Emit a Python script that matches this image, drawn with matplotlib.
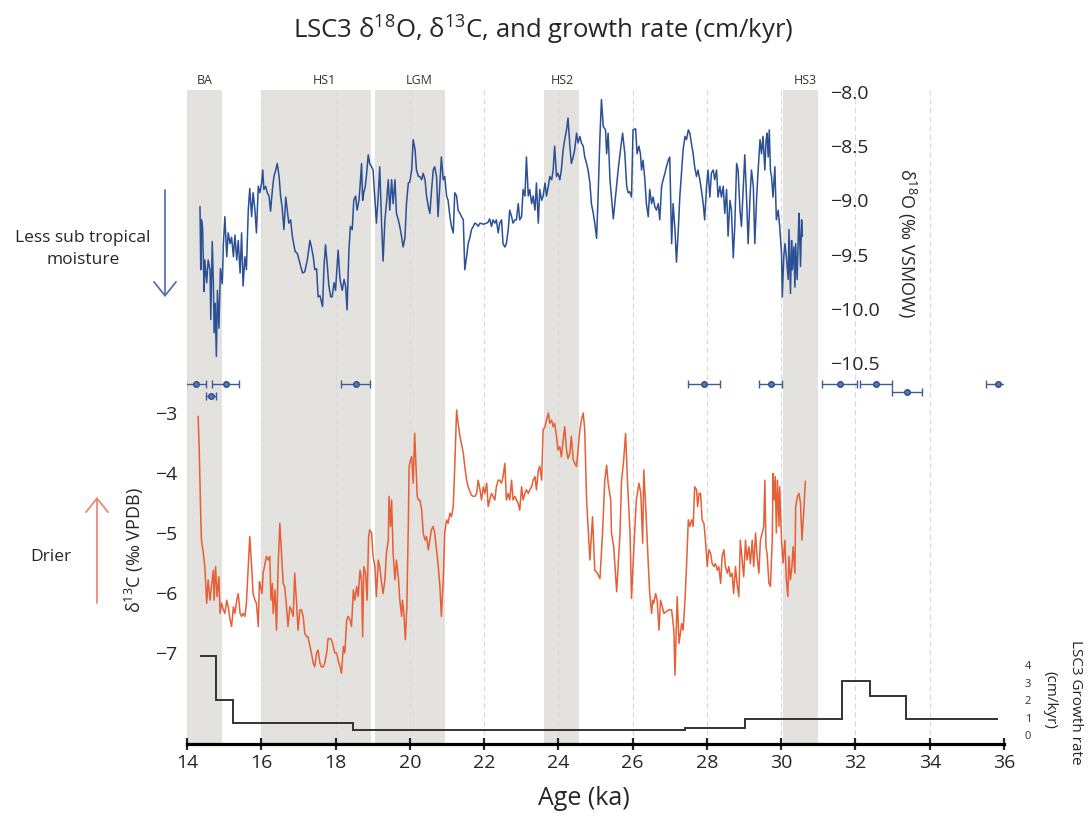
import matplotlib.pyplot as plt

plt.rcParams['font.family'] = ['Open Sans', 'DejaVu Sans']
plt.rcParams['mathtext.fontset'] = 'custom'
plt.rcParams['mathtext.rm'] = 'Open Sans'
plt.rcParams['mathtext.it'] = 'Open Sans'
plt.rcParams['mathtext.bf'] = 'Open Sans'

# ---- data ----
# stadial / LGM bands (ka)
band_names = ['BA', 'HS1', 'LGM', 'HS2', 'HS3']
band_start = [14.0, 16.0, 19.05, 23.6, 30.05]
band_end = [14.95, 18.95, 20.94, 24.55, 31.0]
band_label_x = [14.48, 17.7, 20.25, 24.1, 30.66]

# d18O (permil VSMOW) : (age ka, value)
d18o = [(14.35,-9.06),(14.37,-9.64),(14.39,-9.18),(14.42,-9.25),(14.46,-9.84),(14.48,-9.55),(14.53,-9.76),(14.57,-9.55),(14.62,-9.64),(14.64,-10.10),(14.68,-9.38),(14.71,-9.76),(14.73,-10.22),(14.76,-9.95),(14.79,-10.44),(14.82,-9.83),(14.86,-10.18),(14.90,-9.63),(14.95,-9.77),(14.98,-9.40),(15.02,-9.15),(15.07,-9.52),(15.11,-9.30),(15.16,-9.40),(15.20,-9.34),(15.25,-9.52),(15.29,-9.32),(15.34,-9.55),(15.38,-9.37),(15.43,-9.67),(15.47,-9.30),(15.51,-9.79),(15.56,-9.52),(15.60,-9.64),(15.65,-9.09),(15.69,-8.89),(15.74,-9.15),(15.78,-8.93),(15.83,-9.09),(15.87,-9.30),(15.92,-8.87),(15.96,-8.93),(16.01,-8.84),(16.04,-8.72),(16.07,-8.90),(16.12,-8.87),(16.16,-8.93),(16.21,-8.96),(16.25,-9.10),(16.30,-8.90),(16.34,-8.78),(16.39,-8.72),(16.43,-8.66),(16.48,-8.78),(16.52,-8.96),(16.56,-9.06),(16.61,-9.27),(16.66,-8.97),(16.70,-9.09),(16.74,-9.21),(16.79,-9.18),(16.84,-9.34),(16.91,-9.47),(16.97,-9.49),(17.04,-9.58),(17.11,-9.67),(17.17,-9.66),(17.24,-9.55),(17.31,-9.37),(17.35,-9.43),(17.40,-9.52),(17.44,-9.64),(17.49,-9.63),(17.53,-9.89),(17.58,-9.88),(17.65,-9.98),(17.69,-9.61),(17.73,-9.41),(17.78,-9.61),(17.82,-9.79),(17.87,-9.89),(17.91,-9.89),(17.96,-9.76),(18.00,-9.83),(18.07,-9.46),(18.12,-9.73),(18.18,-9.83),(18.23,-9.73),(18.27,-9.79),(18.31,-10.01),(18.36,-9.46),(18.40,-9.24),(18.45,-9.27),(18.49,-9.00),(18.54,-8.96),(18.58,-9.09),(18.63,-9.00),(18.66,-8.87),(18.70,-8.66),(18.73,-9.00),(18.76,-8.93),(18.80,-8.87),(18.83,-8.78),(18.88,-8.58),(18.92,-8.66),(18.97,-8.69),(19.01,-8.72),(19.06,-9.00),(19.10,-9.21),(19.15,-8.96),(19.19,-8.69),(19.24,-9.21),(19.28,-9.56),(19.33,-9.18),(19.37,-9.03),(19.42,-8.81),(19.46,-9.09),(19.51,-8.81),(19.55,-9.03),(19.60,-8.81),(19.64,-9.12),(19.69,-9.18),(19.73,-9.24),(19.78,-9.34),(19.82,-9.43),(19.87,-9.34),(19.91,-9.03),(19.96,-8.84),(20.00,-8.83),(20.05,-8.72),(20.09,-8.44),(20.14,-8.53),(20.18,-8.72),(20.23,-8.78),(20.27,-8.78),(20.32,-8.81),(20.36,-8.75),(20.41,-8.81),(20.45,-8.96),(20.50,-9.06),(20.54,-9.12),(20.58,-8.93),(20.63,-8.72),(20.67,-8.69),(20.72,-8.78),(20.76,-9.15),(20.81,-8.84),(20.85,-8.60),(20.90,-8.81),(20.94,-8.78),(20.99,-8.96),(21.03,-9.00),(21.08,-9.15),(21.12,-9.24),(21.17,-9.30),(21.21,-8.93),(21.26,-8.96),(21.30,-9.09),(21.35,-9.12),(21.39,-9.15),(21.44,-9.18),(21.48,-9.64),(21.53,-9.52),(21.57,-9.40),(21.62,-9.34),(21.66,-9.27),(21.71,-9.24),(21.75,-9.21),(21.80,-9.22),(21.84,-9.24),(21.89,-9.21),(21.98,-9.22),(22.07,-9.21),(22.11,-9.20),(22.15,-9.17),(22.20,-9.24),(22.24,-9.18),(22.29,-9.21),(22.33,-9.18),(22.38,-9.30),(22.42,-9.21),(22.47,-9.18),(22.51,-9.40),(22.56,-9.43),(22.60,-9.40),(22.65,-9.27),(22.69,-9.09),(22.74,-9.15),(22.78,-9.21),(22.83,-9.18),(22.87,-9.18),(22.92,-9.03),(22.96,-9.18),(23.01,-9.15),(23.05,-8.90),(23.10,-8.96),(23.14,-8.60),(23.19,-8.96),(23.23,-8.90),(23.28,-9.03),(23.32,-8.96),(23.37,-9.09),(23.41,-8.84),(23.46,-9.21),(23.50,-8.90),(23.55,-9.00),(23.59,-8.96),(23.64,-8.84),(23.68,-8.96),(23.73,-8.87),(23.77,-8.78),(23.82,-8.81),(23.86,-8.72),(23.90,-8.50),(23.95,-8.78),(23.99,-8.75),(24.04,-8.81),(24.08,-8.72),(24.13,-8.53),(24.17,-8.44),(24.22,-8.35),(24.26,-8.24),(24.31,-8.50),(24.35,-8.66),(24.40,-8.60),(24.44,-8.53),(24.49,-8.38),(24.53,-8.47),(24.58,-8.41),(24.62,-8.47),(24.67,-8.50),(24.71,-8.60),(24.76,-8.66),(24.80,-8.72),(24.85,-8.84),(24.89,-9.03),(24.94,-9.12),(24.98,-9.21),(25.03,-9.35),(25.07,-8.96),(25.12,-8.41),(25.16,-8.07),
        (25.21,-8.32),(25.27,-8.35),(25.30,-8.57),(25.34,-8.38),(25.39,-8.81),(25.48,-9.17),(25.52,-9.03),(25.61,-8.72),(25.66,-8.57),(25.73,-8.38),(25.79,-8.57),(25.84,-8.87),(25.88,-8.93),(25.92,-8.92),(25.97,-8.97),(26.01,-8.35),(26.08,-8.34),(26.12,-8.57),(26.17,-8.50),(26.21,-8.57),(26.24,-8.72),(26.28,-8.63),(26.33,-8.81),(26.37,-9.03),(26.42,-9.15),(26.46,-8.90),(26.51,-9.03),(26.55,-8.97),(26.60,-9.06),(26.64,-9.09),(26.69,-9.03),(26.73,-9.18),(26.78,-8.87),(26.82,-8.81),(26.87,-8.75),(26.91,-8.69),(26.96,-8.63),(27.00,-8.60),(27.05,-9.40),(27.09,-9.03),(27.14,-9.27),(27.18,-9.57),(27.23,-9.27),(27.27,-8.97),(27.32,-8.72),(27.36,-8.53),(27.41,-8.41),(27.45,-8.44),(27.50,-8.35),(27.54,-8.38),(27.59,-8.49),(27.63,-8.57),(27.67,-8.69),(27.72,-8.78),(27.76,-8.72),(27.81,-8.81),(27.85,-8.90),(27.90,-9.03),(27.94,-9.18),(27.99,-8.87),(28.03,-8.72),(28.08,-8.97),(28.12,-8.75),(28.17,-8.72),(28.21,-8.81),(28.26,-8.72),(28.30,-8.97),(28.35,-8.87),(28.39,-8.97),(28.44,-8.87),(28.48,-9.12),(28.53,-8.90),(28.57,-9.33),(28.62,-9.00),(28.66,-9.09),(28.71,-9.53),(28.75,-9.24),(28.80,-8.66),(28.84,-8.72),(28.89,-9.09),(28.93,-9.24),(28.98,-8.87),(29.02,-8.58),(29.07,-9.00),(29.11,-9.40),(29.16,-8.97),(29.20,-8.72),(29.25,-8.87),(29.29,-9.40),(29.34,-8.97),(29.38,-8.72),(29.43,-8.44),(29.47,-8.57),(29.51,-8.41),(29.56,-8.72),(29.59,-8.46),(29.62,-8.38),(29.65,-8.60),(29.68,-8.35),(29.71,-8.72),(29.74,-8.78),(29.78,-8.97),(29.83,-8.69),(29.87,-9.18),(29.92,-9.09),(29.96,-9.24),(30.01,-9.49),(30.03,-9.89),(30.07,-9.52),(30.10,-9.40),(30.14,-9.52),(30.19,-9.73),(30.21,-9.27),(30.25,-9.86),(30.28,-9.37),(30.30,-9.64),(30.34,-9.43),(30.37,-9.80),(30.39,-9.40),(30.43,-9.73),(30.46,-9.33),(30.48,-9.12),(30.52,-9.61),(30.55,-9.18),(30.57,-9.33)]

# d13C (permil VPDB) : (age ka, value)
d13c = [(14.30,-3.06),(14.33,-3.62),(14.37,-4.73),(14.39,-5.12),(14.44,-5.34),(14.48,-5.56),(14.53,-6.17),(14.57,-5.78),(14.62,-6.12),(14.66,-5.89),(14.71,-5.62),(14.73,-6.12),(14.77,-5.56),(14.81,-6.06),(14.86,-5.73),(14.89,-6.34),(14.93,-6.17),(14.98,-6.28),(15.02,-6.34),(15.07,-6.12),(15.11,-6.23),(15.16,-6.45),(15.20,-6.56),(15.25,-6.23),(15.29,-6.34),(15.34,-6.12),(15.38,-6.01),(15.43,-6.34),(15.47,-6.39),(15.51,-6.34),(15.56,-6.39),(15.60,-6.17),(15.65,-5.56),(15.69,-5.06),(15.74,-5.56),(15.78,-6.01),(15.83,-6.12),(15.87,-6.17),(15.92,-6.56),(15.95,-5.81),(15.98,-5.89),(16.02,-6.01),(16.05,-5.67),(16.10,-5.51),(16.14,-5.39),(16.19,-5.45),(16.23,-5.39),(16.26,-6.12),(16.30,-5.84),(16.32,-6.34),(16.37,-5.95),(16.41,-6.62),(16.46,-5.45),(16.50,-4.84),(16.54,-5.28),(16.59,-5.84),(16.63,-5.89),(16.68,-6.23),(16.72,-6.56),(16.77,-6.23),(16.81,-6.28),(16.86,-6.39),(16.90,-5.67),(16.95,-6.17),(16.99,-6.62),(17.04,-6.28),(17.08,-6.28),(17.13,-6.39),(17.17,-6.67),(17.22,-6.73),(17.26,-6.73),(17.31,-6.89),(17.35,-7.00),(17.40,-7.17),(17.44,-7.23),(17.49,-7.00),(17.53,-6.95),(17.58,-7.17),(17.62,-7.23),(17.67,-7.23),(17.71,-7.17),(17.76,-7.00),(17.80,-6.76),(17.85,-6.76),(17.89,-6.78),(17.94,-6.89),(17.98,-7.00),(18.03,-7.00),(18.07,-7.12),(18.12,-7.23),(18.16,-7.34),(18.21,-6.89),(18.25,-7.00),(18.30,-6.45),(18.34,-6.39),(18.39,-6.45),(18.43,-6.56),(18.48,-5.95),(18.52,-6.12),(18.57,-5.89),(18.61,-6.06),(18.66,-5.62),(18.70,-5.78),(18.73,-6.73),(18.76,-5.56),(18.81,-5.67),(18.85,-6.12),(18.89,-5.06),(18.92,-4.95),(18.97,-5.00),(19.01,-5.39),(19.06,-5.56),(19.10,-6.06),(19.15,-5.45),(19.19,-5.56),(19.24,-5.84),(19.28,-6.01),(19.33,-5.78),(19.37,-5.34),(19.42,-5.12),(19.44,-4.39),(19.48,-4.89),(19.51,-4.45),(19.55,-5.34),(19.60,-5.78),(19.64,-5.45),(19.69,-5.73),(19.73,-6.12),(19.78,-6.39),(19.80,-6.12),(19.84,-6.34),(19.88,-6.78),(19.92,-6.23),(19.96,-4.84),(19.98,-3.89),(20.02,-3.78),(20.05,-3.73),(20.09,-4.17),(20.13,-3.34),(20.16,-3.78),(20.20,-4.39),(20.23,-4.45),(20.27,-4.45),(20.32,-4.62),(20.36,-5.00),(20.41,-5.12),(20.45,-5.06),(20.50,-5.28),(20.54,-5.12),(20.58,-4.95),(20.63,-4.89),(20.67,-5.00),(20.72,-5.28),(20.76,-5.51),(20.81,-5.89),(20.85,-6.39),(20.90,-5.78),(20.94,-5.00),(20.99,-4.78),(21.03,-4.84),(21.08,-4.67),(21.12,-4.73),(21.17,-4.56),(21.21,-3.89),(21.26,-2.95),(21.30,-3.17),(21.35,-3.39),(21.39,-3.51),(21.44,-3.67),(21.48,-3.89),(21.53,-4.12),(21.57,-4.23),(21.62,-4.31),(21.66,-4.37),(21.71,-4.39),(21.75,-4.39),(21.80,-4.34),(21.84,-4.12),(21.89,-4.28),(21.93,-4.45),(21.98,-4.23),(22.02,-4.34),(22.07,-4.17),(22.11,-4.56),(22.15,-4.45),(22.20,-4.34),(22.24,-4.39),(22.29,-4.45),(22.33,-4.23),(22.38,-4.12),(22.42,-4.12),(22.47,-4.17),(22.51,-4.06),(22.56,-3.84),(22.60,-4.45),(22.65,-4.34),(22.69,-4.45),(22.74,-4.12),(22.78,-4.45),(22.83,-4.39),(22.87,-4.45),(22.92,-4.51),(22.96,-4.62),(23.01,-4.23),(23.05,-4.45),(23.10,-4.34),(23.14,-4.28),(23.19,-4.34),(23.23,-4.28),(23.28,-4.23),(23.32,-4.12),(23.37,-4.06),(23.41,-4.28),(23.46,-3.95),(23.50,-3.89),(23.55,-4.12),(23.59,-3.28),(23.64,-3.23),(23.68,-3.12),(23.73,-3.00),(23.77,-3.17),(23.82,-3.12),(23.86,-3.23),(23.90,-3.17),(23.95,-3.39),(23.99,-3.62),(24.04,-3.56),(24.08,-3.73),(24.13,-3.45),(24.17,-3.23),(24.22,-3.62),(24.26,-3.76),(24.31,-3.67),(24.35,-3.39),(24.40,-3.78),(24.44,-3.84),(24.49,-3.89),(24.53,-3.62),(24.58,-3.28),(24.62,-3.12),(24.67,-3.00),(24.71,-3.28),
        (24.76,-4.45),(24.85,-5.45),(24.92,-4.73),(24.98,-5.62),(25.05,-5.67),(25.12,-5.76),(25.19,-5.00),(25.25,-4.12),(25.30,-3.87),(25.34,-4.17),(25.41,-4.45),(25.43,-5.00),(25.49,-5.23),(25.57,-5.98),(25.66,-5.00),(25.70,-4.14),(25.76,-3.78),(25.81,-3.34),(25.86,-4.12),(25.93,-5.00),(25.97,-6.09),(26.03,-5.28),(26.10,-4.45),(26.17,-4.17),(26.22,-4.34),(26.27,-5.17),(26.30,-3.95),(26.36,-4.67),(26.42,-5.50),(26.46,-6.01),(26.51,-6.34),(26.54,-6.12),(26.57,-6.17),(26.62,-6.01),(26.66,-6.12),(26.71,-6.62),(26.75,-6.12),(26.80,-6.23),(26.84,-6.34),(26.91,-6.31),(26.98,-6.28),(27.05,-6.28),(27.11,-6.62),(27.14,-7.37),(27.20,-6.06),(27.25,-6.84),(27.32,-6.51),(27.36,-6.62),(27.41,-6.12),(27.45,-5.56),(27.50,-4.78),(27.54,-4.89),(27.59,-4.78),(27.63,-4.89),(27.67,-4.23),(27.72,-4.28),(27.75,-4.56),(27.79,-4.34),(27.83,-4.34),(27.87,-4.78),(27.92,-4.84),(27.96,-5.12),(28.01,-5.56),(28.05,-5.28),(28.10,-5.34),(28.14,-5.51),(28.19,-5.56),(28.23,-5.51),(28.28,-5.62),(28.32,-5.56),(28.37,-5.84),(28.41,-5.39),(28.46,-5.28),(28.50,-5.56),(28.55,-5.67),(28.59,-5.56),(28.63,-5.73),(28.68,-5.67),(28.72,-6.01),(28.77,-5.56),(28.81,-5.84),(28.86,-6.06),(28.90,-5.12),(28.95,-5.45),(28.99,-5.73),(29.04,-5.12),(29.08,-5.45),(29.13,-5.23),(29.17,-5.51),(29.22,-5.12),(29.26,-5.56),(29.31,-5.00),(29.35,-5.39),(29.40,-5.67),(29.44,-5.12),(29.49,-5.00),(29.53,-4.89),(29.56,-4.12),(29.59,-5.23),(29.62,-5.34),(29.67,-5.84),(29.71,-5.89),(29.76,-5.12),(29.78,-4.01),(29.81,-4.45),(29.84,-4.06),(29.87,-5.00),(29.90,-4.12),(29.94,-4.89),(29.96,-4.23),(30.01,-5.12),(30.05,-5.50),(30.10,-5.12),(30.14,-5.78),(30.18,-6.06),(30.21,-5.39),(30.25,-5.78),(30.29,-5.56),(30.32,-5.23),(30.37,-5.67),(30.39,-4.56),(30.44,-4.39),(30.48,-4.34),(30.52,-4.50),(30.56,-5.12),(30.61,-4.62),(30.65,-4.14)]

# growth rate (cm/kyr), step edges in ka
growth_edges = [14.35, 14.78, 15.23, 18.47, 27.4, 29.02, 31.64, 32.38, 33.35, 35.83]
growth_rate = [4.5, 2.0, 0.7, 0.3, 0.4, 0.9, 3.1, 2.25, 0.9]

# U-Th dates (ka) with 2 sigma errors, row = vertical offset of the marker
date_age = [14.24, 14.65, 15.04, 18.54, 27.92, 29.72, 31.58, 32.55, 33.38, 35.83]
date_err = [0.26, 0.13, 0.36, 0.40, 0.43, 0.31, 0.47, 0.43, 0.40, 0.32]
date_row = [0, 1, 0, 0, 0, 0, 0, 0, 0.7, 0]

d18o_age, d18o_val = zip(*d18o)
d13c_age, d13c_val = zip(*d13c)

blue = '#2c4f95'
orange = '#e65f36'
txt = '#262626'

W, H = 1089, 816
fig = plt.figure(figsize=(W / 100, H / 100), dpi=100)
rect = [187 / W, 72 / H, 817 / W, 654 / H]

# base axes: bands, grid, age axis
ax = fig.add_axes(rect)
ax.set_xlim(14, 36)
ax.set_ylim(0, 1)
for s, e in zip(band_start, band_end):
    ax.axvspan(s, e, color='#e3e2de', lw=0, zorder=0)
for g in range(16, 36, 2):
    ax.axvline(g, color='#dadada', lw=0.8, dashes=(5, 3), zorder=1)
for name, xl in zip(band_names, band_label_x):
    ax.text(xl, 1.0145, name, transform=ax.get_xaxis_transform(),
            ha='center', va='center', fontsize=9, color='#333333')
for s in ['top', 'left', 'right']:
    ax.spines[s].set_visible(False)
ax.spines['bottom'].set_linewidth(2.3)
ax.set_yticks([])
ax.set_xticks(range(14, 37, 2))
ax.tick_params(axis='x', direction='inout', length=8, width=1.6,
               labelsize=14, pad=3, colors=txt)
ax.set_xlabel('Age (ka)', fontsize=18, color=txt)
ax.xaxis.set_label_coords(0.486, -0.064)


def overlay():
    a = fig.add_axes(rect, sharex=ax, facecolor='none')
    for s in a.spines.values():
        s.set_visible(False)
    a.tick_params(axis='x', bottom=False, labelbottom=False)
    return a


# d13C, left scale
ax13 = overlay()
ax13.plot(d13c_age, d13c_val, color=orange, lw=1.1)
ax13.set_ylim(-8.517, 2.383)
ax13.set_yticks([-3, -4, -5, -6, -7])
ax13.tick_params(axis='y', length=0, pad=7, labelsize=14, colors=txt)

# d18O, scale sitting right of HS3
ax18 = overlay()
ax18.plot(d18o_age, d18o_val, color=blue, lw=1.1)
ax18.set_ylim(-14.015, -7.982)
ax18.yaxis.tick_right()
ax18.spines['right'].set_position(('data', 31.25))
ax18.set_yticks([-8.0, -8.5, -9.0, -9.5, -10.0, -10.5])
ax18.set_yticklabels(['−8.0', '−8.5', '−9.0', '−9.5', '−10.0', '−10.5'])
ax18.tick_params(axis='y', length=0, pad=2, labelsize=14, colors=txt)

# growth rate, small right scale
axg = overlay()
axg.stairs(growth_rate, growth_edges, baseline=None, color='#333333', lw=1.4)
axg.set_ylim(-0.514, 36.857)
axg.yaxis.tick_right()
axg.set_yticks([0, 1, 2, 3, 4])
axg.tick_params(axis='y', length=0, pad=15, labelsize=8, colors='#333333')

# dates
axd = overlay()
axd.errorbar(date_age, date_row, xerr=date_err, fmt='o', ms=4,
             mfc='#5876b3', mec='#2f4e8c', ecolor='#3b5b9a',
             elinewidth=1, capsize=3, capthick=1)
axd.set_ylim(30, -24.5)
axd.set_yticks([])

# labels and annotations (figure pixels from top-left)
def fx(x):
    return x / W


def fy(y):
    return 1 - y / H


fig.text(fx(543), fy(30), 'LSC3 δ$^{18}$O, δ$^{13}$C, and growth rate (cm/kyr)',
         ha='center', va='center', fontsize=18.5, color=txt)
fig.text(fx(907), fy(243), 'δ$^{18}$O (‰ VSMOW)', rotation=-90,
         ha='center', va='center', fontsize=13, color=txt)
fig.text(fx(134), fy(550), 'δ$^{13}$C (‰ VPDB)', rotation=90,
         ha='center', va='center', fontsize=13, color=txt)
fig.text(fx(1076), fy(702), 'LSC3 Growth rate', rotation=-90,
         ha='center', va='center', fontsize=11, color=txt)
fig.text(fx(1050), fy(700), '(cm/kyr)', rotation=-90,
         ha='center', va='center', fontsize=11, color=txt)
fig.text(fx(83), fy(249), 'Less sub tropical\nmoisture', ha='center',
         va='center', fontsize=12.5, color=txt, linespacing=1.45)
fig.text(fx(51), fy(557), 'Drier', ha='center', va='center',
         fontsize=12.5, color=txt)

ax.annotate('', xy=(fx(165), fy(297)), xycoords='figure fraction',
            xytext=(fx(165), fy(190)), textcoords='figure fraction',
            arrowprops=dict(arrowstyle='->,head_length=0.5,head_width=0.4',
                            mutation_scale=20, color='#4a6cab', lw=1.2,
                            shrinkA=0, shrinkB=0))
ax.annotate('', xy=(fx(97), fy(497)), xycoords='figure fraction',
            xytext=(fx(97), fy(603)), textcoords='figure fraction',
            arrowprops=dict(arrowstyle='->,head_length=0.5,head_width=0.4',
                            mutation_scale=20, color='#e8836a', lw=1.2,
                            shrinkA=0, shrinkB=0))

fig.savefig('out.png', dpi=100)
